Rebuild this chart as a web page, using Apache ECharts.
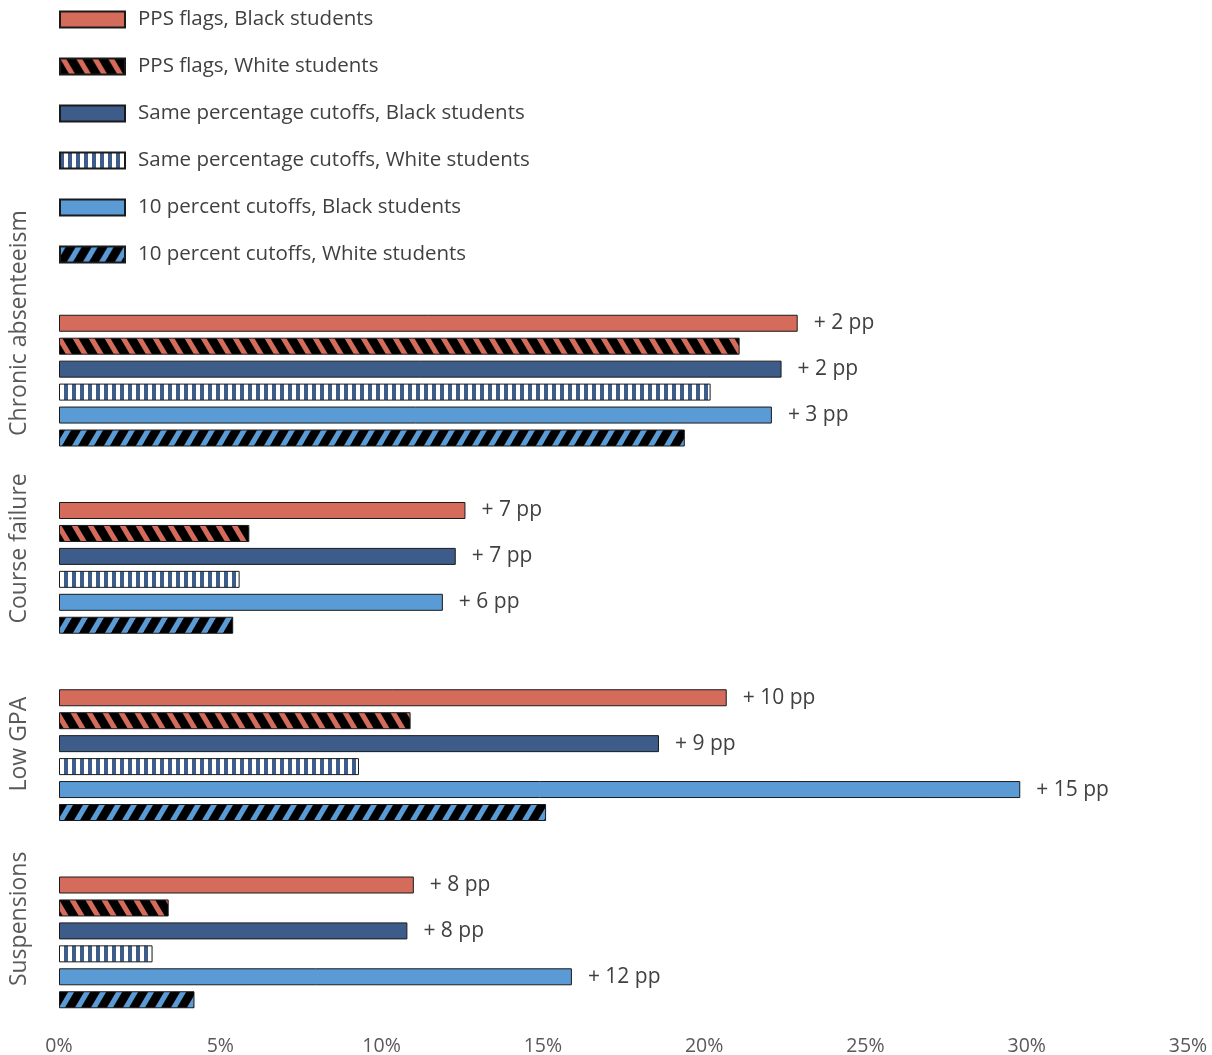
<!DOCTYPE html>
<html>
<head>
<meta charset="utf-8">
<script src="https://cdn.jsdelivr.net/npm/echarts@6/dist/echarts.min.js"></script>
<style>
    html, body { margin: 0; padding: 0; background: #fff; }
    #main { width: 1212px; height: 1055px; }
</style>
</head>
<body>
<div id="main"></div>
<script>
var categories = ['Chronic absenteeism', 'Course failure', 'Low GPA', 'Suspensions'];
var seriesNames = [
    'PPS flags, Black students',
    'PPS flags, White students',
    'Same percentage cutoffs, Black students',
    'Same percentage cutoffs, White students',
    '10 percent cutoffs, Black students',
    '10 percent cutoffs, White students'
];
var ppsBlack = [22.9, 12.6, 20.7, 11.0];
var ppsWhite = [21.1, 5.9, 10.9, 3.4];
var sameBlack = [22.4, 12.3, 18.6, 10.8];
var sameWhite = [20.2, 5.6, 9.3, 2.9];
var tenBlack = [22.1, 11.9, 29.8, 15.9];
var tenWhite = [19.4, 5.4, 15.1, 4.2];
var ppsGap = ['+ 2 pp', '+ 7 pp', '+ 10 pp', '+ 8 pp'];
var sameGap = ['+ 2 pp', '+ 7 pp', '+ 9 pp', '+ 8 pp'];
var tenGap = ['+ 3 pp', '+ 6 pp', '+ 15 pp', '+ 12 pp'];
var xTicks = [0, 5, 10, 15, 20, 25, 30, 35];

var salmon = '#D46B5B';
var navy = '#3E5C8A';
var sky = '#5B9BD5';

// striped fills for the White students bars
function diagPattern(bg, fg, dir) {
    var w = 16, h = 27;
    var c = document.createElement('canvas');
    c.width = w; c.height = h;
    var ctx = c.getContext('2d');
    ctx.fillStyle = bg;
    ctx.fillRect(0, 0, w, h);
    ctx.fillStyle = fg;
    for (var k = -2; k <= 2; k++) {
        var o = k * w;
        ctx.beginPath();
        if (dir > 0) { // "/" stripes
            ctx.moveTo(o + w, 0); ctx.lineTo(o + w + 6, 0);
            ctx.lineTo(o + 6, h); ctx.lineTo(o, h);
        } else { // "\" stripes
            ctx.moveTo(o, 0); ctx.lineTo(o + 6, 0);
            ctx.lineTo(o + w + 6, h); ctx.lineTo(o + w, h);
        }
        ctx.closePath();
        ctx.fill();
    }
    return { image: c, repeat: 'repeat' };
}
function vertPattern(bg, fg) {
    var c = document.createElement('canvas');
    c.width = 8; c.height = 8;
    var ctx = c.getContext('2d');
    ctx.fillStyle = bg;
    ctx.fillRect(0, 0, 8, 8);
    ctx.fillStyle = fg;
    ctx.fillRect(0, 0, 4, 8);
    return { image: c, repeat: 'repeat' };
}

var fills = [
    salmon,
    diagPattern('#000', salmon, -1),
    navy,
    vertPattern('#fff', navy),
    sky,
    diagPattern('#000', sky, 1)
];
var values = [ppsBlack, ppsWhite, sameBlack, sameWhite, tenBlack, tenWhite];
var gaps = [ppsGap, null, sameGap, null, tenGap, null];
var labelShift = [115, 39, 22, 47];

var chart = echarts.init(document.getElementById('main'));

var series = seriesNames.map(function (name, i) {
    var s = {
        name: name,
        type: 'bar',
        data: values[i],
        barWidth: 17,
        barGap: '35%',
        itemStyle: {
            color: fills[i],
            borderColor: '#1a1a1a',
            borderWidth: 1
        },
        emphasis: { disabled: true }
    };
    if (gaps[i]) {
        var txt = gaps[i];
        s.label = {
            show: true,
            position: 'right',
            distance: 16,
            color: '#404040',
            fontSize: 21,
            fontFamily: 'Open Sans',
            formatter: function (p) { return txt[p.dataIndex]; }
        };
    }
    return s;
});

var rich = {};
labelShift.forEach(function (v, i) {
    rich['c' + i] = {
        fontSize: 23,
        color: '#595959',
        fontFamily: 'Open Sans',
        padding: [0, 0, 0, v]
    };
});

var option = {
    animation: false,
    textStyle: { fontFamily: 'Open Sans' },
    legend: {
        orient: 'vertical',
        left: 54,
        top: 4,
        itemWidth: 65,
        itemHeight: 16,
        itemGap: 26,
        icon: 'rect',
        data: seriesNames,
        textStyle: {
            color: '#404040',
            fontSize: 20.5,
            lineHeight: 21,
            padding: [0, 0, 0, 8]
        }
    },
    grid: {
        left: 59,
        right: 24,
        top: 287,
        bottom: 19,
        containLabel: false,
        outerBoundsMode: 'none'
    },
    xAxis: {
        type: 'value',
        min: 0,
        max: 35,
        interval: 5,
        splitLine: { show: false },
        axisLine: { show: false },
        axisTick: { show: false },
        axisLabel: {
            color: '#595959',
            fontSize: 19.5,
            margin: 0,
            formatter: function (v) { return xTicks.indexOf(v) >= 0 ? v + '%' : ''; }
        }
    },
    yAxis: {
        type: 'category',
        inverse: true,
        data: categories,
        axisLine: { show: false },
        axisTick: { show: false },
        axisLabel: {
            rotate: 90,
            interval: 0,
            hideOverlap: false,
            margin: 28,
            formatter: function (v, i) { return '{c' + i + '|' + v + '}'; },
            rich: rich
        }
    },
    series: series
};
chart.setOption(option);
</script>
</body>
</html>
